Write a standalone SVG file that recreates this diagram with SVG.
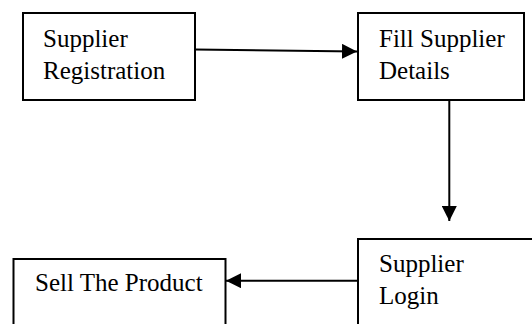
<svg xmlns="http://www.w3.org/2000/svg" width="532" height="324" viewBox="0 0 532 324">
  <style>
    .box { fill: #fff; stroke: #000; stroke-width: 2; }
    .label { font-family: "Liberation Serif", "Times New Roman", serif; font-size: 25px; fill: #000; }
    .edge { fill: none; stroke: #000; stroke-width: 2; }
  </style>
  <defs>
    <marker id="arrow" viewBox="0 0 15 15" refX="15" refY="7.5" markerWidth="15" markerHeight="15" markerUnits="userSpaceOnUse" orient="auto">
      <path d="M0,0 L15,7.5 L0,15 Z" fill="#000"/>
    </marker>
  </defs>

  <rect width="532" height="324" fill="#fff"/>

  <g id="supplier-registration">
    <rect class="box" x="23" y="13" width="172" height="87"/>
    <text class="label" x="43" y="47">Supplier</text>
    <text class="label" x="43" y="79">Registration</text>
  </g>

  <g id="fill-supplier-details">
    <rect class="box" x="358" y="13" width="166" height="87"/>
    <text class="label" x="379" y="47">Fill Supplier</text>
    <text class="label" x="379" y="79">Details</text>
  </g>

  <g id="supplier-login">
    <rect class="box" x="358" y="239" width="190" height="100"/>
    <text class="label" x="379" y="272">Supplier</text>
    <text class="label" x="379" y="304">Login</text>
  </g>

  <g id="sell-the-product">
    <rect class="box" x="13.5" y="259" width="212" height="80"/>
    <text class="label" x="35" y="291">Sell The Product</text>
  </g>

  <g id="connectors">
    <line class="edge" x1="195" y1="49.5" x2="357" y2="51.5" marker-end="url(#arrow)"/>
    <line class="edge" x1="449.3" y1="100" x2="449.3" y2="221" marker-end="url(#arrow)"/>
    <line class="edge" x1="358" y1="280.7" x2="226" y2="280.7" marker-end="url(#arrow)"/>
  </g>
</svg>
